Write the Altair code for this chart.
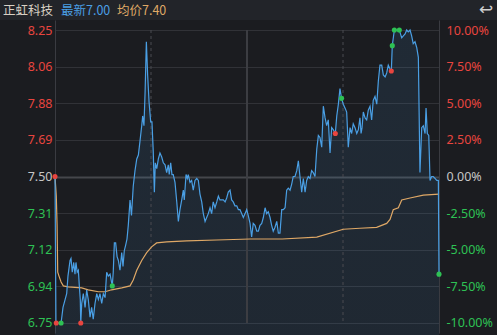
import altair as alt
import pandas as pd

# ---- data ----
TITLE = "正虹科技"
LATEST = "最新7.00"
AVG = "均价7.40"
ICON = "↩"

# minutes since 9:30 (0..240) and price
PRICE_T = [0, 0.6, 3.8, 5.0, 6.3, 7.3, 8.1, 9.4, 10.0, 10.8, 11.7, 12.5, 13.1, 13.9, 14.6, 15.2, 15.8, 16.1,
           16.7, 17.7, 18.8, 19.8, 20.8, 21.9, 22.9, 23.9, 25.0, 26.1, 27.1, 28.1, 29.2, 30.2, 31.3, 32.3,
           33.3, 34.4, 35.8, 36.4, 37.1, 37.9, 38.8, 39.6, 40.6, 41.7, 42.5, 43.3, 44.2, 45.0, 45.8, 46.9,
           47.8, 48.9, 50.0, 51.1, 52.1, 53.1, 54.2, 54.8, 55.6, 56.3, 57.1, 57.9, 58.8, 59.8, 60.6, 61.4,
           62.1, 62.7, 63.6, 64.6, 65.6, 66.7, 67.7, 68.8, 69.8, 70.8, 71.4, 72.3, 73.1, 73.9, 75.0, 76.1,
           77.1, 78.1, 79.2, 80.2, 80.8, 81.9, 82.7, 83.3, 84.4, 85.4, 86.4, 87.5, 88.6, 89.6, 90.6, 91.7,
           92.7, 93.8, 94.8, 95.8, 96.9, 97.9, 98.9, 100.0, 101.1, 102.1, 103.1, 104.2, 105.2, 106.3, 107.3,
           108.3, 109.4, 110.4, 111.4, 112.5, 113.6, 114.6, 115.6, 116.7, 117.7, 118.8, 119.8, 120.8, 121.9,
           122.9, 123.9, 125.0, 126.1, 127.1, 128.1, 129.2, 130.2, 131.3, 132.3, 133.3, 134.4, 135.4, 136.4,
           137.5, 138.6, 139.6, 140.6, 141.7, 142.7, 143.8, 144.8, 145.8, 146.9, 147.9, 148.9, 150.0, 151.1,
           152.1, 153.1, 154.2, 155.2, 156.3, 157.3, 158.3, 159.4, 160.4, 161.4, 162.5, 163.6, 164.6, 165.6,
           166.7, 167.7, 168.8, 169.8, 170.8, 171.9, 172.9, 173.9, 175.2, 176.1, 177.1, 178.1, 179.1, 180.2,
           181.3, 182.3, 183.3, 184.4, 185.4, 186.4, 187.5, 188.6, 189.6, 190.6, 191.3, 191.9, 192.7, 193.8,
           194.8, 195.8, 196.9, 197.9, 198.9, 200.0, 201.1, 202.1, 203.1, 204.2, 205.2, 206.3, 207.3, 208.3,
           209.4, 210.2, 210.8, 212.1, 213.6, 215.2, 216.7, 217.7, 218.8, 219.8, 220.8, 221.9, 222.9, 223.9,
           225.0, 226.1, 227.1, 228.1, 229.2, 230.2, 231.3, 231.9, 232.7, 233.6, 234.4, 235.4, 236.4, 237.5,
           238.6, 239.6, 240.0]
PRICE_V = [7.50, 6.75, 6.75, 6.83, 6.87, 6.90, 6.99, 7.07, 7.08, 7.01, 7.06, 7.00, 7.06, 7.01, 7.02, 6.94, 6.87, 6.75,
           6.85, 6.90, 6.83, 6.92, 6.87, 6.78, 6.83, 6.77, 6.85, 6.90, 6.87, 6.90, 6.85, 6.90, 6.88, 7.01,
           6.99, 7.00, 6.94, 7.01, 7.16, 7.16, 7.09, 7.07, 7.02, 7.11, 7.04, 7.12, 7.15, 7.18, 7.25, 7.38,
           7.30, 7.45, 7.53, 7.59, 7.61, 7.68, 7.76, 7.81, 7.76, 7.93, 8.19, 8.02, 7.88, 7.78, 7.78, 7.63,
           7.42, 7.57, 7.54, 7.59, 7.62, 7.60, 7.57, 7.56, 7.52, 7.56, 7.51, 7.57, 7.51, 7.51, 7.47, 7.37,
           7.27, 7.33, 7.38, 7.43, 7.38, 7.51, 7.49, 7.51, 7.47, 7.48, 7.43, 7.48, 7.49, 7.48, 7.41, 7.37,
           7.31, 7.27, 7.29, 7.31, 7.34, 7.31, 7.37, 7.34, 7.37, 7.40, 7.38, 7.38, 7.38, 7.37, 7.39,
           7.42, 7.43, 7.38, 7.37, 7.35, 7.35, 7.33, 7.33, 7.31, 7.29, 7.31, 7.33, 7.30, 7.26,
           7.19, 7.26, 7.25, 7.22, 7.22, 7.25, 7.26, 7.29, 7.34, 7.31, 7.32, 7.29, 7.25, 7.22,
           7.24, 7.27, 7.21, 7.21, 7.33, 7.33, 7.34, 7.43, 7.44, 7.43, 7.46, 7.50, 7.50, 7.53,
           7.58, 7.50, 7.42, 7.49, 7.42, 7.48, 7.50, 7.49, 7.53, 7.52, 7.50, 7.64, 7.71, 7.70,
           7.65, 7.86, 7.80, 7.76, 7.79, 7.62, 7.75, 7.74, 7.72, 7.81, 7.87, 7.95, 7.90, 7.87,
           7.85, 7.83, 7.65, 7.75, 7.72, 7.77, 7.75, 7.72, 7.74, 7.80, 7.72, 7.75, 7.83, 7.80,
           7.79, 7.84, 7.86, 7.79, 7.89, 7.91, 7.87, 7.99, 8.07, 8.07, 8.02, 8.01, 8.03, 8.07,
           8.05, 8.04, 8.17, 8.25, 8.25, 8.25, 8.21, 8.22, 8.23, 8.25, 8.24, 8.25, 8.22, 8.18,
           8.19, 8.16, 8.11, 7.52, 7.75, 7.76, 7.72, 7.85, 7.72, 7.71, 7.48, 7.50, 7.50, 7.49,
           7.48, 7.48, 7.00]

AVG_T = [0, 0.8, 1.3, 1.7, 2.5, 3.8, 5.2, 8.3, 16.7, 20.8, 27.1, 31.3, 35.4, 41.7, 46.9, 48.9, 51.1, 54.2,
         57.3, 60.4, 63.5, 69.8, 82.3, 101.0, 122.0, 142.0, 163.6, 180.2, 190.6, 201.0, 207.3, 209.4,
         211.4, 214.6, 216.7, 221.9, 230.2, 240.0]
AVG_V = [7.50, 7.40, 7.25, 7.01, 6.99, 6.96, 6.94, 6.935, 6.93, 6.92, 6.91, 6.91, 6.92, 6.93, 6.94, 6.97, 7.02, 7.07,
         7.11, 7.14, 7.16, 7.165, 7.17, 7.175, 7.18, 7.18, 7.19, 7.23, 7.235, 7.24, 7.26, 7.28,
         7.33, 7.34, 7.38, 7.39, 7.405, 7.41]

RED_T = [0, 0.8, 16.1, 175.2, 210.2]
RED_V = [7.50, 6.75, 6.75, 7.72, 8.04]
GREEN_T = [3.8, 35.8, 179.1, 210.8, 212.1, 215.2, 240.0]
GREEN_V = [6.75, 6.94, 7.90, 8.17, 8.25, 8.25, 7.00]

LEFT_VALUES = [6.75, 6.9375, 7.125, 7.3125, 7.5, 7.6875, 7.875, 8.0625, 8.25]
LEFT_LABELS = ["6.75", "6.94", "7.12", "7.31", "7.50", "7.69", "7.88", "8.06", "8.25"]
RIGHT_LABELS = ["-10.00%", "-7.50%", "-5.00%", "-2.50%", "0.00%", "2.50%", "5.00%", "7.50%", "10.00%"]
DASHED_T = [60, 180]
SOLID_T = [120]

# ---- styling ----
BG = "#1b1c20"
HEADER_BG = "#222429"
GRID = "#313237"
MID_GRID = "#45464b"
RED = "#e8453f"
GREEN = "#2ec154"
NEUTRAL = "#c6c6c6"
LINE = "#4a9fe4"
AVGC = "#dfa866"
FONT = "Noto Sans"
CJK = "Noto Sans CJK SC"

W, H = 384, 313
Y_DOMAIN = [6.6988, 8.3012]


def label_expr(labels):
    expr = "''"
    for v, lab in reversed(list(zip(LEFT_VALUES, labels))):
        expr = f"abs(datum.value - {v}) < 0.001 ? '{lab}' : ({expr})"
    return expr


color_cond = {
    "condition": [
        {"test": "datum.value > 7.501", "value": RED},
        {"test": "datum.value < 7.499", "value": GREEN},
    ],
    "value": NEUTRAL,
}

price_df = pd.DataFrame({"t": PRICE_T, "p": PRICE_V})
avg_df = pd.DataFrame({"t": AVG_T, "p": AVG_V})
red_df = pd.DataFrame({"t": RED_T, "p": RED_V})
green_df = pd.DataFrame({"t": GREEN_T, "p": GREEN_V})
dash_df = pd.DataFrame({"t": DASHED_T, "top": max(LEFT_VALUES), "bot": min(LEFT_VALUES)})
solid_df = pd.DataFrame({"t": SOLID_T, "top": max(LEFT_VALUES), "bot": min(LEFT_VALUES)})

xs = alt.Scale(domain=[0, 240], nice=False, zero=False)
ys = alt.Scale(domain=Y_DOMAIN, nice=False, zero=False)

left_axis = alt.Axis(
    orient="left", values=LEFT_VALUES, labelExpr=label_expr(LEFT_LABELS),
    labelColor=color_cond, labelFont=FONT, labelFontSize=12.5, labelPadding=3,
    ticks=False, domain=True, domainColor="#3a3b41", domainWidth=1,
    grid=True,
    gridColor={"condition": {"test": "abs(datum.value - 7.5) < 0.001", "value": MID_GRID}, "value": GRID},
    gridWidth={"condition": {"test": "abs(datum.value - 7.5) < 0.001", "value": 2}, "value": 1},
    labelOverlap=False, title=None,
)
right_axis = alt.Axis(
    orient="right", values=LEFT_VALUES, labelExpr=label_expr(RIGHT_LABELS),
    labelColor=color_cond, labelFont=FONT, labelFontSize=12.5, labelPadding=7,
    ticks=False, domain=True, domainColor="#3a3b41", domainWidth=1,
    grid=False, labelOverlap=False, title=None,
)

base_x = alt.X("t:Q", scale=xs, axis=None)


def y_plain(field):
    return alt.Y(field, scale=ys, axis=None)


header_bg = alt.Chart(pd.DataFrame({"a": [0]})).mark_rect(color=HEADER_BG).encode(
    x=alt.value(-55), x2=alt.value(W + 58), y=alt.value(-20), y2=alt.value(0)
)

area = alt.Chart(price_df).mark_area(
    color=alt.Gradient(
        gradient="linear",
        stops=[alt.GradientStop(color="rgba(74,159,228,0.02)", offset=0),
               alt.GradientStop(color="rgba(74,159,228,0.11)", offset=1)],
        x1=1, x2=1, y1=1, y2=0,
    )
).encode(x=base_x, y=alt.Y("p:Q", scale=ys, axis=left_axis))

dash_rules = alt.Chart(dash_df).mark_rule(color="#4a4b50", strokeWidth=1, strokeDash=[3, 3]).encode(
    x=base_x, y=y_plain("top:Q"), y2="bot:Q"
)
solid_rules = alt.Chart(solid_df).mark_rule(color="#3c3d42", strokeWidth=2).encode(
    x=base_x, y=y_plain("top:Q"), y2="bot:Q"
)

avg_line = alt.Chart(avg_df).mark_line(color=AVGC, strokeWidth=1.2).encode(
    x=base_x, y=alt.Y("p:Q", scale=ys, axis=right_axis)
)
price_line = alt.Chart(price_df).mark_line(color=LINE, strokeWidth=1.2).encode(
    x=base_x, y=y_plain("p:Q")
)
red_dots = alt.Chart(red_df).mark_circle(color=RED, size=26, opacity=1).encode(
    x=base_x, y=y_plain("p:Q")
)
green_dots = alt.Chart(green_df).mark_circle(color=GREEN, size=26, opacity=1).encode(
    x=base_x, y=y_plain("p:Q")
)

hdr = pd.DataFrame({"a": [0]})
t1 = alt.Chart(hdr).mark_text(text=TITLE, color="#d8d0c4", font=CJK, fontSize=12.5, align="left",
                              baseline="middle").encode(x=alt.value(-52), y=alt.value(-9))
t2 = alt.Chart(hdr).mark_text(text=LATEST, color=LINE, font=CJK, fontSize=12.5, align="left",
                              baseline="middle").encode(x=alt.value(6), y=alt.value(-9))
t3 = alt.Chart(hdr).mark_text(text=AVG, color=AVGC, font=CJK, fontSize=12.5, align="left",
                              baseline="middle").encode(x=alt.value(62), y=alt.value(-9))
t4 = alt.Chart(hdr).mark_text(text=ICON, color="#cfcfcf", font="DejaVu Sans", fontSize=17, align="center",
                              baseline="middle").encode(x=alt.value(431), y=alt.value(-10))

chart = alt.layer(
    header_bg, area, dash_rules, solid_rules, avg_line, price_line, red_dots, green_dots, t1, t2, t3, t4
).resolve_axis(y="independent").properties(
    width=W, height=H,
    autosize=alt.AutoSizeParams(type="none"),
    padding={"left": 55, "top": 20, "right": 58, "bottom": 2},
    background=BG,
).configure_view(stroke=None)

chart.save("out.html", embed_options={"renderer": "svg", "actions": False})
